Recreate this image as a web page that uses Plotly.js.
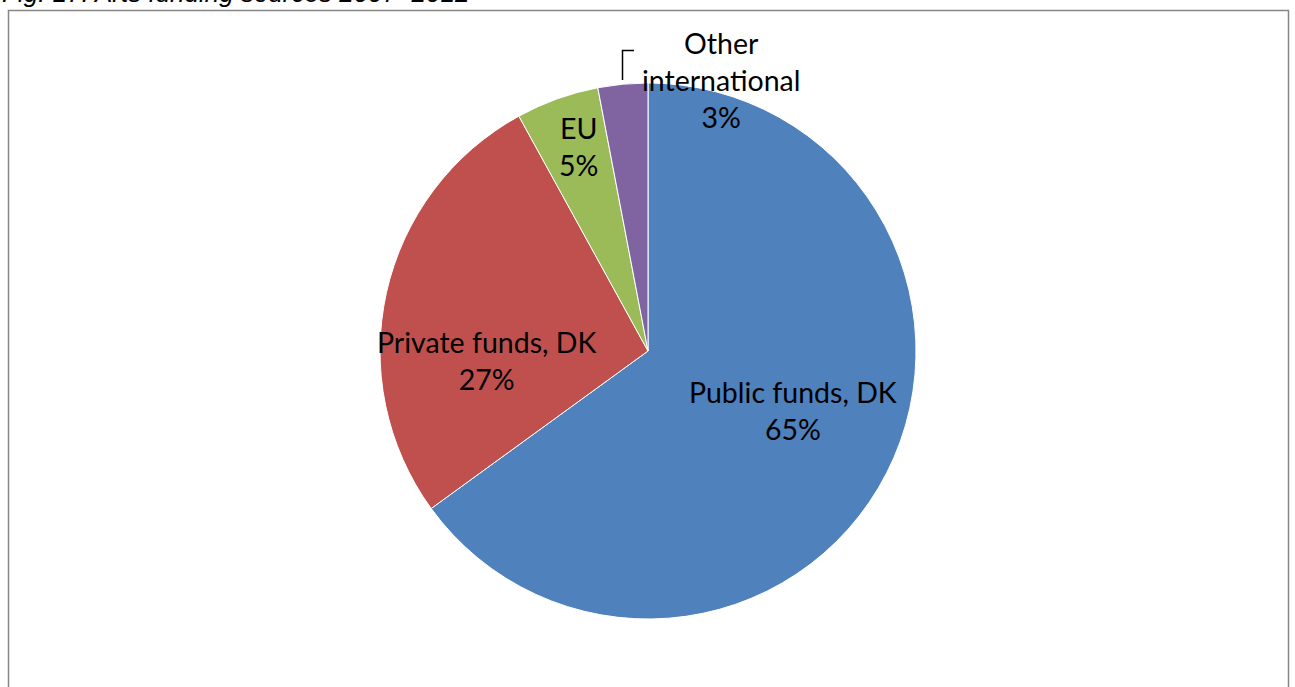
<!DOCTYPE html>
<html>
<head>
<meta charset="utf-8">
<script src="https://cdn.plot.ly/plotly-3.0.1.min.js"></script>
<style>html,body{margin:0;padding:0;background:#fff;}#chart{width:1295px;height:687px;}</style>
</head>
<body>
<div id="chart"></div>
<script>
const categories = ["Public funds, DK", "Private funds, DK", "EU", "Other international"];
const shares = [65, 27, 5, 3];
const colors = ["#4F81BD", "#C0504D", "#9BBB59", "#8064A2"];
const labelLines = [["Public funds, DK"], ["Private funds, DK"], ["EU"], ["Other", "international"]];
const titleText = "Fig. 17: Arts funding sources 2007\u20132012";

const W = 1295, H = 687;
const cx = 648, cy = 351, R = 268;
const px = x => x / W, py = y => 1 - y / H;

const trace = {
  type: "pie",
  labels: categories,
  values: shares,
  sort: false,
  direction: "clockwise",
  rotation: 0,
  textinfo: "none",
  hoverinfo: "label+percent",
  marker: {colors: colors, line: {color: "#ffffff", width: 1}},
  domain: {x: [px(cx - R), px(cx + R)], y: [py(cy + R), py(cy - R)]},
  showlegend: false
};

// label positions (page pixel centres of the text blocks)
const labelPos = [[793, 410], [486, 360], [578, 147], [721, 80]];
const total = shares.reduce((a, b) => a + b, 0);
const annotations = categories.map((c, i) => ({
  xref: "paper", yref: "paper",
  x: px(labelPos[i][0]), y: py(labelPos[i][1]),
  xanchor: "center", yanchor: "middle",
  text: labelLines[i].join("<br>") + "<br>" + Math.round(shares[i] / total * 100) + "%",
  showarrow: false,
  font: {family: "Lato, 'Open Sans', sans-serif", size: 28.5, color: "#000"},
  align: "center"
}));
annotations.push({
  xref: "paper", yref: "paper", x: 0, y: py(10),
  xanchor: "left", yanchor: "bottom",
  text: "<i>" + titleText + "</i>", showarrow: false,
  font: {family: "'Liberation Sans', Arial, sans-serif", size: 26, color: "#000"}
});

const shapes = [
  {type: "rect", xref: "paper", yref: "paper", x0: px(8.5), x1: px(1288.5), y0: -0.1, y1: py(10.5),
   line: {color: "#868686", width: 1.5}, fillcolor: "rgba(0,0,0,0)", layer: "below"},
  {type: "path", xref: "paper", yref: "paper",
   path: `M ${px(622.5)} ${py(80)} L ${px(622.5)} ${py(50.5)} L ${px(634)} ${py(50.5)}`,
   line: {color: "#000", width: 1.5}}
];

const layout = {
  width: W, height: H,
  margin: {l: 0, r: 0, t: 0, b: 0},
  paper_bgcolor: "#fff",
  showlegend: false,
  annotations: annotations,
  shapes: shapes
};
Plotly.newPlot("chart", [trace], layout, {displayModeBar: false, staticPlot: true});
</script>
</body>
</html>
